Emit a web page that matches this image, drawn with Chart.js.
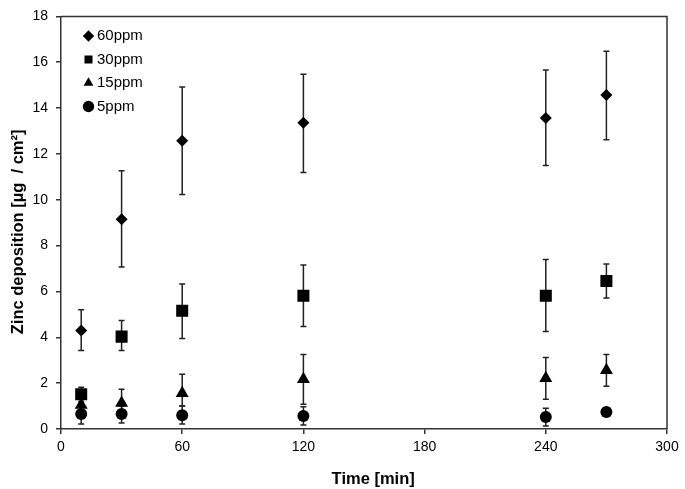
<!DOCTYPE html>
<html lang="en">
  <head>
    <meta charset="UTF-8" />
    <title>Zinc deposition</title>
    <style>
      body { margin: 0; background: #fff; }
      #box { width: 685px; height: 489px; }
    </style>
  </head>
  <body>
    <div id="box"><canvas id="myChart"></canvas></div>
  </body>
</html>
<script src="https://cdn.jsdelivr.net/npm/chart.js"></script>
<script>
  // time points (min)
  var tempos = [10, 30, 60, 120, 240, 270];

  // mean values, ug/cm2
  var media60 = [4.3, 9.15, 12.58, 13.36, 13.57, 14.57];
  var media30 = [1.52, 4.03, 5.16, 5.81, 5.81, 6.46];
  var media15 = [1.05, 1.13, 1.56, 2.17, 2.21, 2.56];
  var media5 = [0.65, 0.65, 0.6, 0.57, 0.52, 0.74];

  // error bar ends (top / bottom)
  var topo60 = [5.2, 11.27, 14.92, 15.48, 15.66, 16.48];
  var base60 = [3.43, 7.07, 10.23, 11.19, 11.49, 12.62];
  var topo30 = [1.82, 4.73, 6.33, 7.16, 7.4, 7.2];
  var base30 = [1.2, 3.43, 3.95, 4.47, 4.25, 5.72];
  var topo15 = [1.3, 1.73, 2.39, 3.25, 3.12, 3.25];
  var base15 = [0.8, 0.6, 1.0, 1.08, 1.3, 1.86];
  var topo5 = [1.0, 1.0, 1.0, 0.97, 0.9, 0.88];
  var base5 = [0.22, 0.26, 0.22, 0.17, 0.13, 0.6];

  var yTicks = [0, 2, 4, 6, 8, 10, 12, 14, 16, 18];
  var xTicks = [0, 60, 120, 180, 240, 300];

  var fonte = 'Arial, "Liberation Sans", sans-serif';

  function pontos(valores) {
    var lista = [];
    for (var c = 0; c < tempos.length; c++) {
      lista.push({ x: tempos[c], y: valores[c] });
    }
    return lista;
  }

  var erros = [
    [topo60, base60],
    [topo30, base30],
    [topo15, base15],
    [topo5, base5],
  ];

  // error bars, drawn under the markers
  const barrasErro = {
    id: "barrasErro",
    beforeDatasetsDraw(chart) {
      const ctx = chart.ctx;
      const sx = chart.scales.x;
      const sy = chart.scales.y;
      ctx.save();
      ctx.strokeStyle = "#222";
      ctx.lineWidth = 1.5;
      for (var s = 0; s < erros.length; s++) {
        for (var c = 0; c < tempos.length; c++) {
          var px = sx.getPixelForValue(tempos[c]);
          var pt = sy.getPixelForValue(erros[s][0][c]);
          var pb = sy.getPixelForValue(erros[s][1][c]);
          ctx.beginPath();
          ctx.moveTo(px, pt);
          ctx.lineTo(px, pb);
          ctx.moveTo(px - 3, pt);
          ctx.lineTo(px + 3, pt);
          ctx.moveTo(px - 3, pb);
          ctx.lineTo(px + 3, pb);
          ctx.stroke();
        }
      }
      ctx.restore();
    },
  };

  // top and right frame lines
  const moldura = {
    id: "moldura",
    afterDraw(chart) {
      const a = chart.chartArea;
      const ctx = chart.ctx;
      ctx.save();
      ctx.strokeStyle = "#333";
      ctx.lineWidth = 1.5;
      ctx.beginPath();
      ctx.moveTo(a.left, a.top);
      ctx.lineTo(a.right, a.top);
      ctx.lineTo(a.right, a.bottom);
      ctx.stroke();
      ctx.restore();
    },
  };

  // push the in-plot legend a bit away from the corner
  const legendaDentro = {
    id: "legendaDentro",
    afterLayout(chart) {
      chart.legend.left += 18;
      chart.legend.top = 20;
    },
  };

  const data = {
    datasets: [
      { label: "60ppm", data: pontos(media60), pointStyle: "rectRot", pointRadius: 6 },
      { label: "30ppm", data: pontos(media30), pointStyle: "rect", pointRadius: 8.5 },
      { label: "15ppm", data: pontos(media15), pointStyle: "triangle", pointRadius: 7.5 },
      { label: "5ppm", data: pontos(media5), pointStyle: "circle", pointRadius: 6 },
    ],
  };
  data.datasets.forEach(function (d) {
    d.backgroundColor = "#000";
    d.borderColor = "#000";
    d.borderWidth = 0;
    d.pointHoverRadius = d.pointRadius;
  });

  const config = {
    type: "scatter",
    data: data,
    options: {
      responsive: true,
      maintainAspectRatio: false,
      animation: false,
      layout: { padding: { left: 0, top: 14, right: 18, bottom: 0 } },
      plugins: {
        tooltip: { enabled: false },
        legend: {
          position: "chartArea",
          align: "start",
          labels: {
            usePointStyle: true,
            boxWidth: 2,
            boxHeight: 8,
            padding: 8.5,
            color: "#000",
            font: { family: fonte, size: 15 },
          },
        },
      },
      scales: {
        x: {
          type: "linear",
          min: 0,
          max: 300,
          afterFit: function (s) { s.height = 60; },
          afterBuildTicks: function (s) {
            s.ticks = xTicks.map(function (v) { return { value: v }; });
          },
          grid: { drawOnChartArea: false, tickLength: 5, color: "#333", lineWidth: 1.5 },
          border: { color: "#333", width: 1.5 },
          ticks: { color: "#000", padding: 5, font: { family: fonte, size: 14 } },
          title: {
            display: true,
            text: "    Time [min]",
            color: "#000",
            padding: { top: 6, bottom: 0 },
            font: { family: fonte, size: 16.5, weight: "bold" },
          },
        },
        y: {
          min: 0,
          max: 18,
          afterFit: function (s) { s.width = 61; },
          afterBuildTicks: function (s) {
            s.ticks = yTicks.map(function (v) { return { value: v }; });
          },
          grid: { drawOnChartArea: false, tickLength: 5, color: "#333", lineWidth: 1.5 },
          border: { color: "#333", width: 1.5 },
          ticks: { color: "#000", padding: 8, font: { family: fonte, size: 14 } },
          title: {
            display: true,
            text: "Zinc deposition [µg  / cm²]    ",
            color: "#000",
            padding: { top: 9, bottom: 0 },
            font: { family: fonte, size: 16.5, weight: "bold" },
          },
        },
      },
    },
    plugins: [barrasErro, moldura, legendaDentro],
  };

  const myChart = new Chart(document.getElementById("myChart"), config);
</script>
